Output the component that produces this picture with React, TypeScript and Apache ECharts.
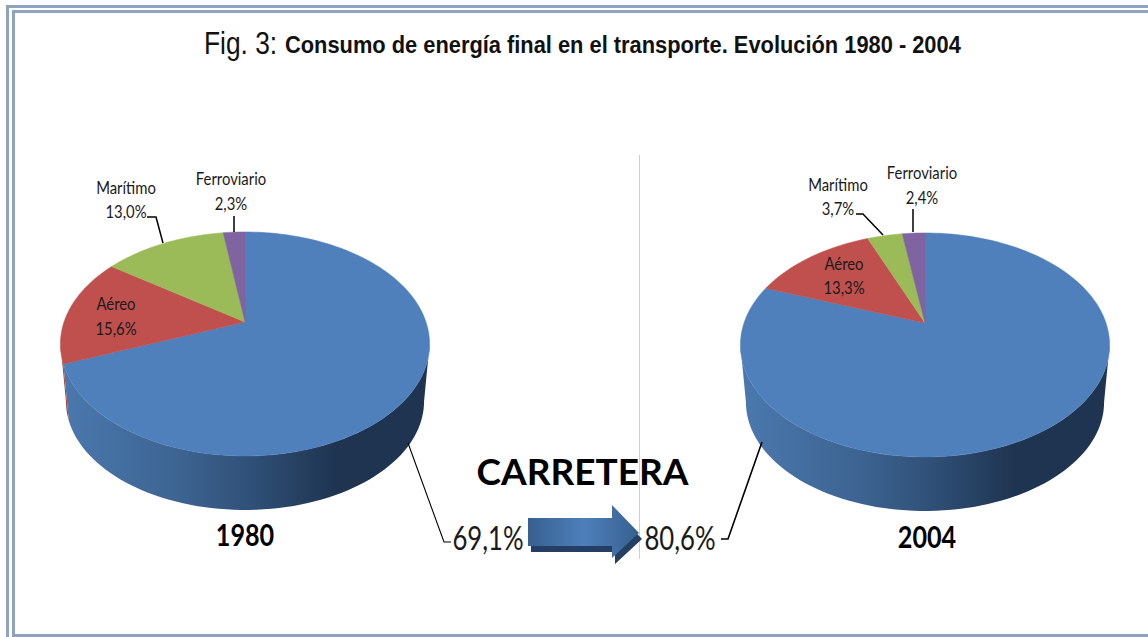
import React, { useEffect, useRef } from "react";
import * as echarts from "echarts";

const categories = ["Carretera", "Aéreo", "Marítimo", "Ferroviario"];
const values1980 = [69.1, 15.6, 13.0, 2.3];
const values2004 = [80.6, 13.3, 3.7, 2.4];
const years = ["1980", "2004"];
const titleLead = "Fig. 3:";
const titleMain = "Consumo de energía final en el transporte. Evolución 1980 - 2004";
const roadLabel = "CARRETERA";

const sliceColors = ["#4f80bb", "#c0504d", "#9bbb59", "#8064a2"];
const wallColors = ["#3a6090", "#a8433f", "#7d9a45", "#65507f"];
const labelFont = "Lato, 'Noto Sans', sans-serif";
const narrowFont = "'Liberation Sans', sans-serif";

type Pt = [number, number];
type LabelSpot = { x: number; y: number; big?: boolean; lw?: number; leader: Pt[] };

const pieLayouts: {
  cx: number;
  cy: number;
  labels: LabelSpot[];
}[] = [
  {
    cx: 245,
    cy: 322,
    labels: [
      { x: 488, y: 537, big: true, lw: 1.1, leader: [[408, 443], [444, 542], [451, 542]] },
      { x: 116, y: 316, leader: [] },
      { x: 126, y: 199.5, leader: [[147, 217], [156, 217], [163, 243]] },
      { x: 231, y: 191, leader: [[234, 216], [234, 232]] },
    ],
  },
  {
    cx: 925,
    cy: 323,
    labels: [
      { x: 680, y: 537, big: true, lw: 1.6, leader: [[762, 442], [728, 539], [721, 539]] },
      { x: 844, y: 275.5, leader: [] },
      { x: 838, y: 196.5, leader: [[856, 214], [863, 214], [883, 235]] },
      { x: 922, y: 185, leader: [[913, 209], [913, 232]] },
    ],
  },
];

const K = 0.196;
const TOP = { b: 181, a: 107.7, dy: 0 };
const BOTTOM = { b: 175.6, a: 104.5, dy: 58 };
const VIS_START = 101.3;
const VIS_END = 258.7;

function rim(cx: number, cy: number, deg: number, m: { b: number; a: number; dy: number }): Pt {
  const t = (deg * Math.PI) / 180;
  const s = Math.sin(t);
  const c = Math.cos(t);
  const w = 1 + K * c;
  return [cx + (m.b * s) / w, cy + m.dy - (m.a * c) / w];
}

function arc(cx: number, cy: number, from: number, to: number, m: typeof TOP): Pt[] {
  const n = Math.max(2, Math.ceil(Math.abs(to - from) / 2));
  const pts: Pt[] = [];
  for (let i = 0; i <= n; i++) pts.push(rim(cx, cy, from + ((to - from) * i) / n, m));
  return pts;
}

function pieSeries(values: number[], pieIndex: number) {
  const layout = pieLayouts[pieIndex];
  return {
    type: "custom",
    coordinateSystem: "none",
    silent: true,
    clip: false,
    data: values.map((v, i) => ({ name: categories[i], value: v })),
    renderItem: (params: any, api: any) => {
      const i = params.dataIndex;
      const v = api.value(0) as number;
      let before = 0;
      for (let j = 0; j < i; j++) before += values[j];
      const a0 = (before / 100) * 360;
      const a1 = ((before + v) / 100) * 360;
      const { cx, cy } = layout;
      const children: any[] = [];

      const w0 = Math.max(a0, VIS_START);
      const w1 = Math.min(a1, VIS_END);
      if (w1 > w0) {
        const fill =
          i === 0
            ? new echarts.graphic.LinearGradient(
                cx - 180, 0, cx + 90, 0,
                [
                  { offset: 0, color: "#4a78ae" },
                  { offset: 0.45, color: "#3c628f" },
                  { offset: 0.7, color: "#2f4f76" },
                  { offset: 1, color: "#1f3450" },
                ],
                true,
              )
            : wallColors[i];
        children.push({
          type: "polygon",
          shape: {
            points: [
              ...arc(cx, cy, w0, w1, TOP),
              ...arc(cx, cy, w1, w0, BOTTOM),
            ],
          },
          style: { fill },
        });
      }

      children.push({
        type: "polygon",
        shape: { points: [[cx, cy], ...arc(cx, cy, a0, a1, TOP)] },
        style: { fill: sliceColors[i], stroke: sliceColors[i], lineWidth: 0.5 },
      });

      const spot = layout.labels[i];
      if (spot.leader.length) {
        children.push({
          type: "polyline",
          shape: { points: spot.leader },
          style: { fill: "none", stroke: "#000", lineWidth: spot.lw ?? 1.5 },
        });
      }
      const pct = v.toFixed(1).replace(".", ",") + "%";
      const text = i === 0 ? pct : `${categories[i]}\n${pct}`;
      children.push({
        type: "text",
        x: spot.x,
        y: spot.y,
        scaleX: spot.big ? 0.78 : 0.9,
        style: {
          text,
          fontFamily: labelFont,
          fontSize: spot.big ? 33 : 16.5,
          lineHeight: 24.5,
          fill: "#1a1a1a",
          align: "center",
          verticalAlign: "middle",
        },
      });
      return { type: "group", children };
    },
  };
}

const frame = "#8ea3c0";
function frameRect(x: number, y: number, width: number, height: number) {
  return { type: "rect", shape: { x, y, width, height }, style: { fill: frame }, silent: true };
}

const arrowPts: Pt[] = [
  [528, 518], [612, 518], [612, 505], [639, 533], [612, 558], [612, 546], [528, 546],
];

export default function App() {
  const ref = useRef<HTMLDivElement>(null);
  useEffect(() => {
    if (!ref.current) return;
    const chart = echarts.init(ref.current, undefined, { renderer: "svg" });
    chart.setOption({
      animation: false,
      backgroundColor: "#fff",
      series: [pieSeries(values1980, 0), pieSeries(values2004, 1)],
      graphic: [
        frameRect(6, 5, 1142, 3),
        frameRect(12, 10, 1136, 3),
        frameRect(6, 5, 3, 632),
        frameRect(12, 10, 3, 626),
        frameRect(12, 634, 1136, 3),
        {
          type: "text",
          x: 204,
          y: 43,
          scaleX: 0.85,
          silent: true,
          style: {
            text: titleLead,
            fontFamily: narrowFont,
            fontSize: 31,
            fill: "#111",
            align: "left",
            verticalAlign: "middle",
          },
        },
        {
          type: "text",
          x: 285,
          y: 44.5,
          scaleX: 0.91,
          silent: true,
          style: {
            text: titleMain,
            fontFamily: narrowFont,
            fontSize: 24,
            fontWeight: "bold",
            fill: "#111",
            align: "left",
            verticalAlign: "middle",
          },
        },
        {
          type: "line",
          shape: { x1: 639.5, y1: 155, x2: 639.5, y2: 559 },
          style: { stroke: "#cfcfcf", lineWidth: 1 },
          silent: true,
        },
        {
          type: "polygon",
          x: 3,
          y: 6,
          shape: { points: arrowPts },
          style: { fill: "#243f63" },
          silent: true,
        },
        {
          type: "polygon",
          shape: { points: arrowPts },
          style: {
            fill: new echarts.graphic.LinearGradient(0, 0, 1, 0, [
              { offset: 0, color: "#37608f" },
              { offset: 0.5, color: "#4e7fba" },
              { offset: 1, color: "#37608f" },
            ]),
          },
          silent: true,
        },
        {
          type: "text",
          x: 582.5,
          y: 470,
          silent: true,
          style: {
            text: roadLabel,
            fontFamily: labelFont,
            fontWeight: "bold",
            fontSize: 37,
            fill: "#000",
            align: "center",
            verticalAlign: "middle",
          },
        },
        ...years.map((year, i) => ({
          type: "text",
          x: [245, 927][i],
          y: [535, 537][i],
          scaleX: 0.84,
          silent: true,
          style: {
            text: year,
            fontFamily: labelFont,
            fontWeight: "bold",
            fontSize: 30,
            fill: "#000",
            align: "center",
            verticalAlign: "middle",
          },
        })),
      ],
    });
    return () => chart.dispose();
  }, []);
  return (
    <div
      ref={ref}
      style={{ position: "fixed", left: 0, top: 0, width: 1148, height: 637 }}
    />
  );
}
